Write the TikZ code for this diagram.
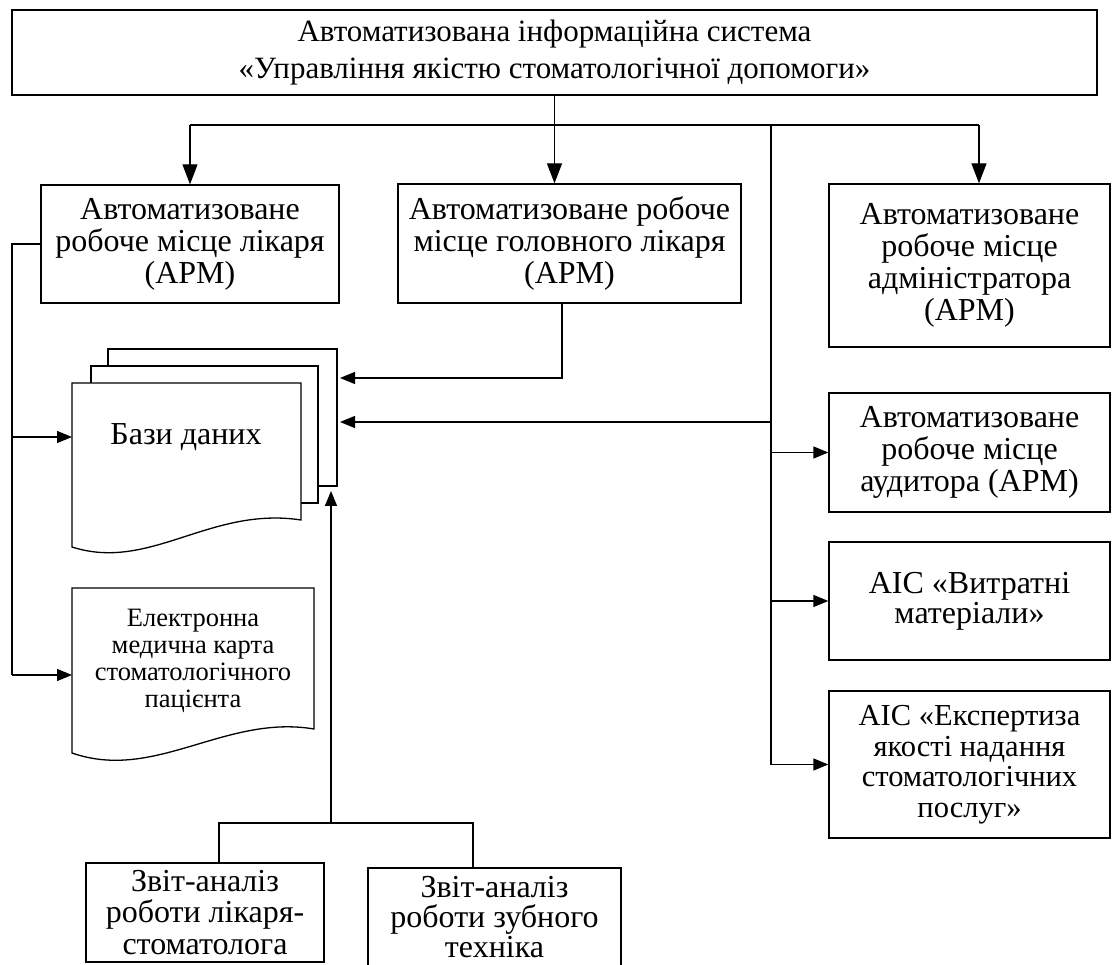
\documentclass[tikz,border=0pt]{standalone}
\usepackage{fontspec}
\setmainfont{Liberation Serif}
\usetikzlibrary{arrows.meta,calc}
\tikzset{
  box/.style={draw, line width=1.3pt, fill=white, inner sep=0pt, align=center, font=\fontsize{32}{32}\selectfont},
  page/.style={draw, line width=1.3pt, fill=white},
  conn/.style={line width=1.3pt},
  arr/.style={line width=1.3pt, -{Triangle[length=15pt,width=12pt]}},
  arrT/.style={line width=1.3pt, -{Triangle[length=20pt,width=15pt]}},
  lbl/.style={inner sep=0pt, align=center}
}
\begin{document}
\begin{tikzpicture}[x=1pt,y=-1pt]
\useasboundingbox (0,0) rectangle (1112,965);
% boxes
\node[box, minimum width=1085pt, minimum height=85pt, font=\fontsize{31}{37}\selectfont] (top) at (554.5,52.5)
  {Автоматизована інформаційна система\\«Управління якістю стоматологічної допомоги»};
\node[box, minimum width=298pt, minimum height=118pt] (b1) at (190,244)
  {Автоматизоване\\робоче місце лікаря\\(АРМ)};
\node[box, minimum width=343pt, minimum height=119pt] (b2) at (569.5,243.5)
  {Автоматизоване робоче\\місце головного лікаря\\(АРМ)};
\node[box, minimum width=281pt, minimum height=163pt] (adm) at (969.5,265.5)
  {Автоматизоване\\робоче місце\\адміністратора\\(АРМ)};
\node[box, minimum width=281pt, minimum height=119pt] (aud) at (969.5,452.5)
  {Автоматизоване\\робоче місце\\аудитора (АРМ)};
\node[box, minimum width=281pt, minimum height=118pt, font=\fontsize{32}{30}\selectfont] (vyt) at (969.5,601)
  {АІС «Витратні\\матеріали»};
\node[box, minimum width=281pt, minimum height=147pt, font=\fontsize{30.5}{30.5}\selectfont] (eks) at (969.5,764.5)
  {АІС «Експертиза\\якості надання\\стоматологічних\\послуг»};
\node[box, minimum width=238pt, minimum height=99pt, font=\fontsize{32}{31.5}\selectfont] (r1) at (205,912.5)
  {Звіт-аналіз\\роботи лікаря-\\стоматолога};
\node[box, minimum width=253pt, minimum height=98pt, font=\fontsize{32}{30}\selectfont] (r2) at (494.5,917)
  {Звіт-аналіз\\роботи зубного\\техніка};
% database stack
\node[page, minimum width=229pt, minimum height=137pt, inner sep=0pt] (dbback) at (222.5,417.5) {};
\node[page, minimum width=227pt, minimum height=137pt, inner sep=0pt] (dbmid) at (204.5,434.5) {};
\draw[page] (72,383) -- (301,383) -- (301,520) .. controls (210,506) and (150,572) .. (72,547) -- cycle;
\node[lbl, font=\fontsize{32}{33}\selectfont] (dbtxt) at (186,437) {Бази даних};
% EMK document
\draw[page] (72,588) -- (314,588) -- (314,729) .. controls (225,714) and (155,782) .. (72,753) -- cycle;
\node[lbl, font=\fontsize{26.5}{27}\selectfont] (emk) at (193,661)
  {Електронна\\медична карта\\стоматологічного\\пацієнта};
% coordinates
\coordinate (busL) at (190,125);
\coordinate (busR) at (979,125);
\coordinate (br) at (771,125);
\coordinate (dbA) at (340,378);
\coordinate (dbB) at (340,422);
\coordinate (dbL) at (72,437);
\coordinate (emkL) at (72,675);
\coordinate (lvx) at (12,244);
\coordinate (dbBot) at (331,491);
\coordinate (bj) at (331,823);
% connectors
\draw[arrT] (top.south) -- (top.south |- b2.north);
\draw[conn] (busL) -- (busR);
\draw[arrT] (busL) -- (b1.north);
\draw[arrT] (busR) -- (busR |- adm.north);
\draw[conn] (br) -- (br |- eks.west);
\draw[arr] (br |- aud.west) -- (aud.west);
\draw[arr] (br |- vyt.west) -- (vyt.west);
\draw[arr] (br |- eks.west) -- (eks.west);
\draw[arr] (br |- dbB) -- (dbB);
\draw[arr] ($(b2.south)+(-7.5,0)$) |- (dbA);
\draw[conn] (b1.west) -- (lvx) -- (lvx |- emkL);
\draw[arr] (lvx |- dbL) -- (dbL);
\draw[arr] (lvx |- emkL) -- (emkL);
\draw[conn] ($(r1.north)+(14,0)$) |- (bj) -| ($(r2.north)+(-21.5,0)$);
\draw[arr] (bj) -- (dbBot);
\end{tikzpicture}
\end{document}
